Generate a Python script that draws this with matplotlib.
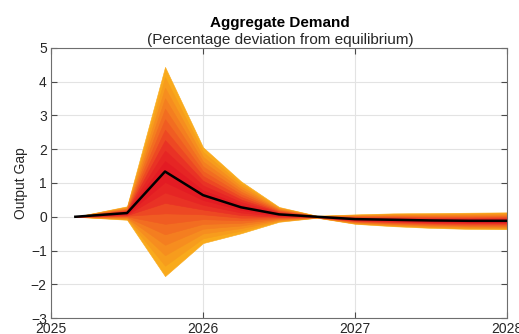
import numpy as np
import matplotlib
matplotlib.use("Agg")
import matplotlib.pyplot as plt
from matplotlib.colors import LinearSegmentedColormap

plt.rcParams['font.family'] = ['Liberation Sans', 'DejaVu Sans']

# Forecast horizon (decimal years)
dates = [2025.16, 2025.5, 2025.75, 2026.0, 2026.25, 2026.5, 2026.75,
         2027.0, 2027.25, 2027.5, 2027.75, 2028.0]
# Central projection of the output gap
median = [0.0, 0.11, 1.34, 0.64, 0.28, 0.07, 0.0,
          -0.07, -0.09, -0.11, -0.12, -0.12]
# Half-width of the outermost band
outer_halfwidth = [0.0, 0.2, 3.1, 1.42, 0.77, 0.22, 0.03,
                   0.14, 0.19, 0.22, 0.24, 0.25]
# Relative width of each nested band (outermost first)
band_fraction = [1.0, 0.9, 0.8, 0.7, 0.6, 0.5, 0.4, 0.3, 0.2, 0.1]

xticks = [2025, 2026, 2027, 2028]
yticks = [-3, -2, -1, 0, 1, 2, 3, 4, 5]

x = np.array(dates)
med = np.array(median)
hw = np.array(outer_halfwidth)

fan_cmap = LinearSegmentedColormap.from_list(
    "fan", [(0.0, "#F9AA1C"), (0.35, "#F47C20"), (0.6, "#EF5522"),
            (0.8, "#E82E25"), (1.0, "#E31B23")])

fig = plt.figure(figsize=(5.19, 3.34), dpi=100)
ax = fig.add_axes([0.0983, 0.0479, 0.8787, 0.8084])

n = len(band_fraction)
for i, f in enumerate(band_fraction):
    col = fan_cmap(i / (n - 1))
    ax.fill_between(x, med - hw * f, med + hw * f,
                    facecolor=col, edgecolor=col, lw=0.4, zorder=2)

ax.plot(x, med, color="black", lw=1.8, zorder=3)

ax.set_xlim(2025, 2028)
ax.set_ylim(-3, 5)
ax.set_xticks(xticks)
ax.set_xticklabels([str(t) for t in xticks])
ax.set_yticks(yticks)
ax.grid(True, color="#E3E3E3", lw=0.8, zorder=0)
ax.set_axisbelow(True)

for side in ["left", "bottom", "right", "top"]:
    ax.spines[side].set_color("#6E6E6E")
    ax.spines[side].set_linewidth(0.8)
ax.tick_params(direction="in", length=4, width=0.8, color="#4A4A4A",
               labelsize=10, labelcolor="#262626",
               top=True, right=True, pad=3)

ax.set_ylabel("Output Gap", fontsize=10, color="#262626", labelpad=2)
fig.text(0.5395, 0.932, "Aggregate Demand", ha="center", va="center",
         fontsize=11, fontweight="bold", color="black")
fig.text(0.5395, 0.880, "(Percentage deviation from equilibrium)",
         ha="center", va="center", fontsize=11, color="#262626")

fig.savefig("out.png", dpi=100)
